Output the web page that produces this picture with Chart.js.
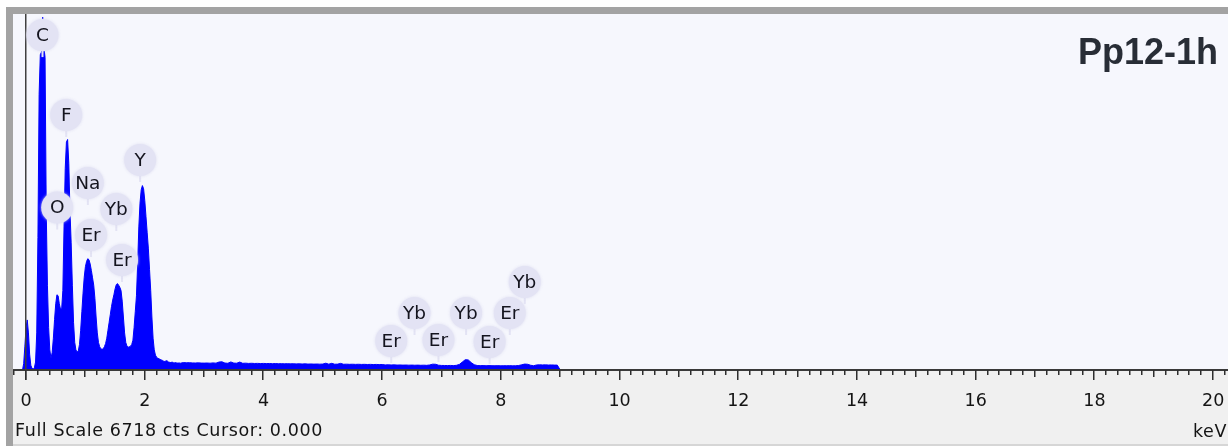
<!DOCTYPE html>
<html>
<head>
<meta charset="utf-8">
<script src="https://cdn.jsdelivr.net/npm/chart.js@4.4.1/dist/chart.umd.min.js"></script>
<style>
  html, body { margin: 0; padding: 0; background: #ffffff; overflow: hidden; }
  canvas { display: block; }
</style>
</head>
<body>
<canvas id="spec" width="1228" height="446"></canvas>
<script>
// EDS spectrum: counts per channel, low-energy region (fine channels)
const lowStart = -0.06;
const lowStep = 0.02;
const lowCounts = [
  0, 120, 450, 800, 945, 700, 300, 90, 30, 20,            // -0.06 .. 0.12
  40, 150, 700, 2500, 5200, 5950, 6000, 6660, 6100, 5900,  // 0.14 .. 0.32
  3000, 1600, 800, 380, 220, 330, 600, 950, 1250, 1420,    // 0.34 .. 0.52
  1400, 1250, 1150, 1150, 1500, 2700, 3800, 4300, 4350, 3900, // 0.54 .. 0.72
  3000, 2400, 1600, 900, 520, 380, 340, 360, 480, 750,     // 0.74 .. 0.92
  1100, 1450, 1750, 1950, 2050, 2100, 2080, 2000, 1880, 1740, // 0.94 .. 1.12
  1600, 1350, 1000, 700, 520, 440, 400, 390, 400, 440,     // 1.14 .. 1.32
  500, 600, 750, 900, 1050, 1200, 1320, 1420, 1530, 1610,  // 1.34 .. 1.52
  1630, 1600, 1560, 1500, 1300, 1000, 700, 520, 450, 430,  // 1.54 .. 1.72
  440, 450, 480, 560, 800, 1100, 1400, 2000, 2700, 3150,   // 1.74 .. 1.92
  3400, 3480, 3420, 3200, 2900, 2600, 2300, 1900, 1500, 1000, // 1.94 .. 2.12
  600, 380, 280, 240, 220, 210, 200, 190, 180, 165,        // 2.14 .. 2.32
  160, 175, 170, 150, 145, 140, 150, 138, 135, 140,        // 2.34 .. 2.52
  132, 130, 134, 128                                       // 2.54 .. 2.60
];

// High-energy region (coarser channels), 2.65 .. 9.00 keV
const highStart = 2.65;
const highStep = 0.05;
const highCounts = [
  140, 136, 138, 134, 132, 135, 131, 130,                  // 2.65 .. 3.00
  132, 128, 134, 129, 150, 155, 131, 127, 152, 130,        // 3.05 .. 3.50
  128, 150, 126, 129, 124, 127, 123, 125, 122, 124,        // 3.55 .. 4.00
  121, 123, 119, 122, 118, 120, 117, 119, 116, 118,        // 4.05 .. 4.50
  115, 117, 113, 116, 112, 114, 111, 113, 110, 112,        // 4.55 .. 5.00
  128, 110, 126, 109, 111, 125, 108, 110, 107, 109,        // 5.05 .. 5.50
  106, 108, 105, 107, 104, 106, 103, 105, 102, 104,        // 5.55 .. 6.00
  96, 98, 95, 97, 93, 95, 92, 94, 91, 93,                  // 6.05 .. 6.50
  90, 92, 89, 91, 88, 95, 110, 108, 90, 86,                // 6.55 .. 7.00
  85, 84, 86, 83, 88, 105, 150, 195, 190, 140,             // 7.05 .. 7.50
  100, 85, 82, 84, 80, 83, 81, 80, 82, 79,                 // 7.55 .. 8.00
  81, 80, 82, 79, 80, 85, 98, 112, 108, 90,                // 8.05 .. 8.50
  80, 95, 98, 96, 97, 94, 96, 93, 92, 0                    // 8.55 .. 9.00
];

// Element line markers
const markerNames    = ['C', 'O', 'F', 'Na', 'Er', 'Yb', 'Er', 'Y', 'Er', 'Yb', 'Er', 'Yb', 'Er', 'Er', 'Yb'];
const markerEnergies = [0.277, 0.525, 0.677, 1.041, 1.095, 1.521, 1.617, 1.922, 6.152, 6.545, 6.948, 7.414, 7.810, 8.150, 8.402];
const markerCounts   = [6320, 3066, 4812, 3529, 2547, 3038, 2076, 3963, 547, 1076, 566, 1076, 530, 1076, 1661];

// Energy axis
const tickValues = [0, 2, 4, 6, 8, 10, 12, 14, 16, 18, 20];
const tickLabels = ['0', '2', '4', '6', '8', '10', '12', '14', '16', '18', '20'];
const minorStep = 0.2;
const fullScale = 6718;

const sampleName = 'Pp12-1h';
const statusText = 'Full Scale 6718 cts Cursor: 0.000';
const unitLabel = 'keV';

const spectrumPoints = lowCounts.map((c, i) => ({ x: +(lowStart + i * lowStep).toFixed(3), y: c }))
  .concat(highCounts.map((c, i) => ({ x: +(highStart + i * highStep).toFixed(3), y: c })));

const UI_FONT = '"DejaVu Sans", Verdana, sans-serif';

const frame = {
  id: 'frame',
  beforeDraw(chart) {
    const ctx = chart.ctx;
    const a = chart.chartArea;
    const W = chart.width, H = chart.height;
    ctx.save();
    ctx.fillStyle = '#ffffff';
    ctx.fillRect(0, 0, W, H);
    // window border
    ctx.fillStyle = '#a3a3a3';
    ctx.fillRect(6, 7, W - 6, a.top - 7);
    ctx.fillRect(6, 7, a.left - 6, H - 7);
    // plot background
    ctx.fillStyle = '#f6f7fd';
    ctx.fillRect(a.left, a.top, W - a.left, a.bottom - a.top);
    // status strip
    ctx.fillStyle = '#f0f0f0';
    ctx.fillRect(a.left, a.bottom, W - a.left, H - a.bottom - 2);
    ctx.fillStyle = '#d6d6d6';
    ctx.fillRect(a.left, H - 2, W - a.left, 2);
    ctx.restore();
  },
  afterDatasetsDraw(chart) {
    const ctx = chart.ctx;
    const a = chart.chartArea;
    const xs = chart.scales.x, ys = chart.scales.y;
    ctx.save();

    // energy axis line
    ctx.fillStyle = '#3a3a3a';
    ctx.fillRect(a.left, a.bottom - 1, chart.width - a.left, 2);

    // zero-energy line
    const x0 = Math.round(xs.getPixelForValue(0));
    ctx.fillStyle = '#404040';
    ctx.fillRect(x0 - 1, a.top, 1.5, a.bottom - a.top + 10);

    // ticks every 0.2 keV
    ctx.fillStyle = '#2e2e2e';
    for (let k = -1; k * minorStep <= xs.max; k++) {
      const v = k * minorStep;
      const px = Math.round(xs.getPixelForValue(v));
      let len = 5;
      if (k % 10 === 0) len = 10;
      else if (k % 5 === 0) len = 7;
      ctx.fillRect(px - 1, a.bottom, 1.5, len);
    }

    // tick labels
    ctx.fillStyle = '#141414';
    ctx.font = '17.5px ' + UI_FONT;
    ctx.textAlign = 'center';
    ctx.textBaseline = 'alphabetic';
    tickValues.forEach((v, i) => {
      ctx.fillText(tickLabels[i], xs.getPixelForValue(v), 406);
    });

    // element markers
    ctx.font = '18.5px ' + UI_FONT;
    ctx.textBaseline = 'middle';
    markerNames.forEach((name, i) => {
      const mx = xs.getPixelForValue(markerEnergies[i]);
      const my = ys.getPixelForValue(markerCounts[i]);
      ctx.fillStyle = '#e3e3f4';
      ctx.fillRect(mx - 1, my + 12, 2, 10);
      ctx.shadowColor = 'rgba(218,218,240,0.9)';
      ctx.shadowBlur = 3;
      ctx.beginPath();
      ctx.arc(mx, my, 16, 0, Math.PI * 2);
      ctx.fill();
      ctx.shadowBlur = 0;
      ctx.fillStyle = '#14141e';
      ctx.fillText(name, mx, my + 1);
    });

    // sample title
    ctx.fillStyle = '#282d36';
    ctx.font = 'bold 36px "Liberation Sans", Arial, sans-serif';
    ctx.textAlign = 'right';
    ctx.textBaseline = 'alphabetic';
    ctx.fillText(sampleName, 1218, 64);

    // status line
    ctx.fillStyle = '#141414';
    ctx.font = '17.5px ' + UI_FONT;
    ctx.textAlign = 'left';
    ctx.letterSpacing = '0.6px';
    ctx.fillText(statusText, 15, 436);
    ctx.fillText(unitLabel, 1193, 437);
    ctx.letterSpacing = '0px';

    ctx.restore();
  }
};

new Chart(document.getElementById('spec'), {
  type: 'line',
  data: {
    datasets: [{
      data: spectrumPoints,
      borderColor: '#0000ff',
      backgroundColor: '#0000ff',
      borderWidth: 1,
      fill: 'origin',
      pointRadius: 0,
      tension: 0
    }]
  },
  options: {
    responsive: false,
    animation: false,
    devicePixelRatio: 1,
    layout: { padding: { left: 13, top: 14, right: 0, bottom: 76 } },
    scales: {
      x: { type: 'linear', min: -0.22, max: 20.25, display: false },
      y: { min: 0, max: fullScale, display: false }
    },
    plugins: { legend: { display: false }, tooltip: { enabled: false } },
    events: []
  },
  plugins: [frame]
});
</script>
</body>
</html>
